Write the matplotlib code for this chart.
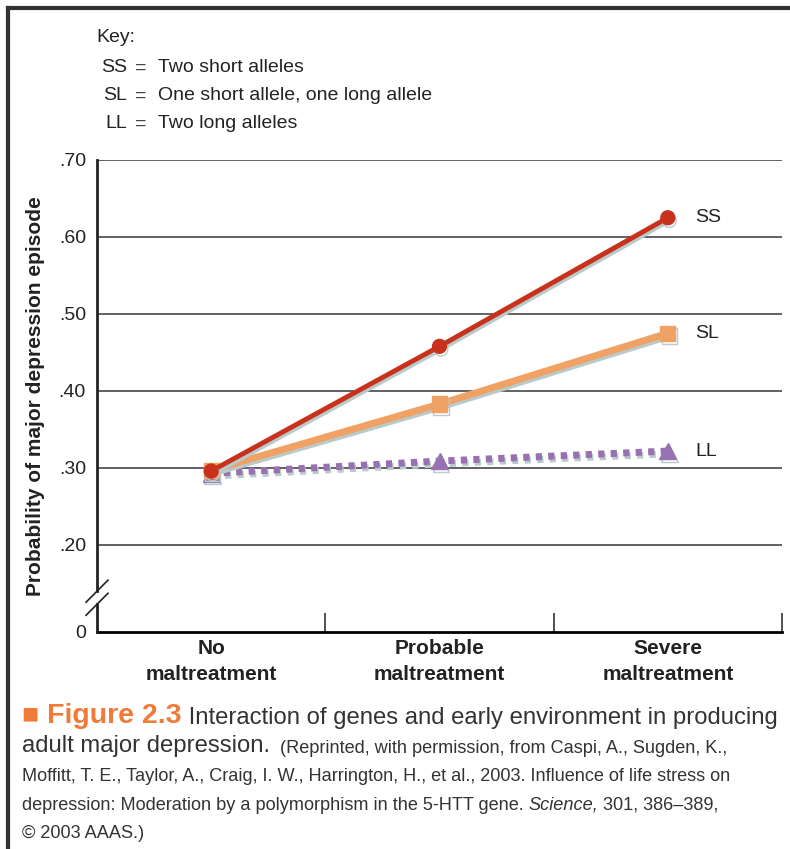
import matplotlib.pyplot as plt
import matplotlib.patheffects as pe
from matplotlib.lines import Line2D

plt.rcParams['font.family'] = ['Liberation Sans', 'DejaVu Sans']

categories = ['No\nmaltreatment', 'Probable\nmaltreatment', 'Severe\nmaltreatment']
ss = [0.296, 0.458, 0.625]
sl = [0.297, 0.383, 0.475]
ll = [0.293, 0.309, 0.322]
ytick_vals = [0.087, 0.20, 0.30, 0.40, 0.50, 0.60, 0.70]
ytick_labels = ['0', '.20', '.30', '.40', '.50', '.60', '.70']
key_rows = [('SS', 'Two short alleles'),
            ('SL', 'One short allele, one long allele'),
            ('LL', 'Two long alleles')]

fig = plt.figure(figsize=(7.9, 8.49), dpi=100)
ax = fig.add_axes([97/790, 1-632/849, 685/790, 472/849])

shadow = [pe.SimpleLineShadow(offset=(1, -2), shadow_color='#b9cacb', alpha=1), pe.Normal()]
x = range(len(categories))
ax.plot(x, ll, color='#9872b0', lw=5, ls=(0, (0.9, 0.9)), marker='^', ms=12,
        path_effects=shadow, zorder=3)
ax.plot(x, sl, color='#f0a264', lw=5, marker='s', ms=11, path_effects=shadow, zorder=4)
ax.plot(x, ss, color='#c8321c', lw=3.5, marker='o', ms=10, path_effects=shadow, zorder=5)

for name, vals in [('SS', ss), ('SL', sl), ('LL', ll)]:
    ax.text(2.12, vals[-1], name, fontsize=14, va='center', ha='left', color='#222222')

ax.set_xlim(-0.5, 2.5)
ax.set_ylim(0.087, 0.70)
ax.set_yticks(ytick_vals)
ax.set_yticklabels(ytick_labels, fontsize=14)
for y in ytick_vals[1:]:
    ax.axhline(y, color='#555555', lw=1.3, zorder=1)

ax.set_xticks([0.5, 1.5, 2.5])
ax.set_xticklabels([])
ax.tick_params(axis='x', direction='in', length=14, width=1.2, color='#333333')
ax.tick_params(axis='y', length=0, pad=8, colors='#222222')
for i, c in enumerate(categories):
    ax.text(i, -0.015, c, transform=ax.get_xaxis_transform(), ha='center', va='top',
            fontsize=15, fontweight='bold', color='#222222', linespacing=1.45)

for s in ['top', 'right', 'left']:
    ax.spines[s].set_visible(False)
ax.spines['bottom'].set_linewidth(2)
# left axis with a break gap
ax.plot([-0.5, -0.5], [0.087, 0.123], color='#222222', lw=2, clip_on=False, zorder=6)
ax.plot([-0.5, -0.5], [0.140, 0.70], color='#222222', lw=2, clip_on=False, zorder=6)
for y0 in [0.140, 0.123]:
    ax.plot([-0.548, -0.452], [y0 - 0.0143, y0 + 0.0143], color='#222222', lw=1.2,
            clip_on=False, zorder=6)

ax.set_ylabel('Probability of major depression episode', fontsize=15, fontweight='bold',
              labelpad=10, color='#222222')

# key
fig.text(96/790, 1-37/849, 'Key:', fontsize=14, va='center', color='#222222')
for i, (code, desc) in enumerate(key_rows):
    yy = 1 - (68 + 28*i)/849
    fig.text(127/790, yy, code, fontsize=14, va='center', ha='right', color='#222222')
    fig.text(141/790, yy, '=', fontsize=14, va='center', ha='center', color='#444444')
    fig.text(158/790, yy, desc, fontsize=14, va='center', ha='left', color='#222222')

# frame
fig.add_artist(Line2D([8/790, 8/790], [0, 1-8/849], color='#333333', lw=3))
fig.add_artist(Line2D([8/790, 1], [1-8/849, 1-8/849], color='#333333', lw=3))

# caption
t = fig.text(22/790, 1-723/849, '\u25a0 Figure 2.3', fontsize=20.5, fontweight='bold',
             color='#f07a3a', va='baseline')
ax.annotate(' Interaction of genes and early environment in producing', xy=(1, 0),
            xycoords=t, fontsize=17.2, color='#333333', va='bottom')
t2 = fig.text(22/790, 1-752/849, 'adult major depression.', fontsize=17.2,
              color='#333333', va='baseline')
ax.annotate('  (Reprinted, with permission, from Caspi, A., Sugden, K.,', xy=(1, 0),
            xycoords=t2, fontsize=13.1, color='#333333', va='bottom')
fig.text(22/790, 1-781/849,
         'Moffitt, T. E., Taylor, A., Craig, I. W., Harrington, H., et al., 2003. Influence of life stress on',
         fontsize=13.1, color='#333333', va='baseline')
t4 = fig.text(22/790, 1-810/849,
              'depression: Moderation by a polymorphism in the 5-HTT gene. ',
              fontsize=13.1, color='#333333', va='baseline')
t5 = ax.annotate('Science,', xy=(1, 0), xycoords=t4, fontsize=13.1, color='#333333',
                 va='bottom', style='italic')
ax.annotate(' 301, 386\u2013389,', xy=(1, 0), xycoords=t5, fontsize=13.1, color='#333333',
            va='bottom')
fig.text(22/790, 1-838/849, '\u00a9 2003 AAAS.)', fontsize=13.1, color='#333333',
         va='baseline')

fig.savefig('out.png', dpi=100)
